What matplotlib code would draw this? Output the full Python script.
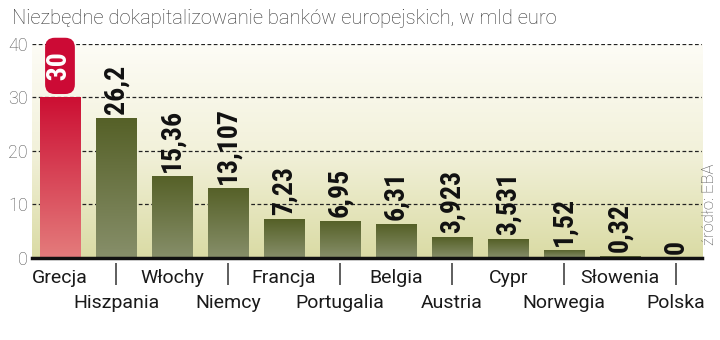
import matplotlib
matplotlib.use("Agg")
import matplotlib.pyplot as plt
import numpy as np
from matplotlib import font_manager
from matplotlib.colors import LinearSegmentedColormap
from matplotlib.transforms import blended_transform_factory

countries = ["Grecja", "Hiszpania", "Włochy", "Niemcy", "Francja", "Portugalia",
             "Belgia", "Austria", "Cypr", "Norwegia", "Słowenia", "Polska"]
values = [30, 26.2, 15.36, 13.107, 7.23, 6.95, 6.31, 3.923, 3.531, 1.52, 0.32, 0]
yticks = [0, 10, 20, 30, 40]
title = "Niezbędne dokapitalizowanie banków europejskich, w mld euro"
source = "źródło: EBA"

# pick a narrow bold face for the value labels if there is one
installed = {f.name for f in font_manager.fontManager.ttflist}
narrow = [n for n in ["Liberation Sans Narrow", "Roboto Condensed",
                      "DejaVu Sans Condensed", "Roboto"] if n in installed]
NARROW = narrow[:1] + ["DejaVu Sans"]
value_size = 20 if narrow and narrow[0] != "Roboto" else 18
LIGHT = ["Roboto", "DejaVu Sans"]

bg_cmap = LinearSegmentedColormap.from_list("bg", ["#dadba4", "#f2f1da", "#fdfcf6"])
green_cmap = LinearSegmentedColormap.from_list("green", ["#878f6a", "#556027"])
red_cmap = LinearSegmentedColormap.from_list("red", ["#e47c7c", "#cc0f33"])

fig = plt.figure(figsize=(7.2, 3.4), dpi=100)
ax = fig.add_axes([0.0444, 0.2412, 0.9306, 0.6294])

x = np.arange(len(values))
xlim = (-0.5, 11.46)
ax.set_xlim(*xlim)
ax.set_ylim(0, 40)

grad = np.linspace(0, 1, 256).reshape(-1, 1)
ax.imshow(grad, extent=[xlim[0], xlim[1], 0, 40], origin="lower",
          aspect="auto", cmap=bg_cmap, zorder=0)

for yv in yticks[1:]:
    ax.axhline(yv, color="#222222", lw=0.9, ls=(0, (3, 2)), zorder=1)

bars = ax.bar(x, values, width=0.714, color="none", zorder=2)
for i, (b, v) in enumerate(zip(bars, values)):
    if v <= 0:
        continue
    cmap = red_cmap if i == 0 else green_cmap
    img = ax.imshow(grad, extent=[b.get_x(), b.get_x() + b.get_width(), 0, v],
                    origin="lower", aspect="auto", cmap=cmap, zorder=2)
    img.set_clip_path(b)

for i, v in enumerate(values):
    label = f"{v:g}".replace(".", ",")
    if i == 0:
        ax.annotate("  " + label + "  ", (x[i], v), xytext=(0, 3.5),
                    textcoords="offset points", rotation=90, ha="center",
                    va="bottom", fontsize=value_size, fontweight="bold",
                    family=NARROW, color="white", zorder=4,
                    annotation_clip=False,
                    bbox=dict(boxstyle="round,pad=0.05,rounding_size=0.35",
                              fc="#cc0a35", ec="none"))
    else:
        ax.annotate(label, (x[i], v), xytext=(0, 3), textcoords="offset points",
                    rotation=90, ha="center", va="bottom", fontsize=value_size,
                    fontweight="bold", family=NARROW, color="#111111", zorder=4)

# country names in two staggered rows
ax.set_xticks(x[0::2], countries[0::2], fontsize=14, family=LIGHT,
              color="#1a1a1a")
ax.set_xticks(x[1::2], countries[1::2], minor=True, fontsize=14, family=LIGHT,
              color="#1a1a1a")
ax.tick_params(axis="x", which="major", length=0, pad=8)
ax.tick_params(axis="x", which="minor", length=0, pad=26)
ax.set_yticks(yticks, [str(t) for t in yticks], fontsize=13, family=LIGHT,
              fontweight="light", color="#555555")
ax.tick_params(axis="y", length=0, pad=3)

for s in ["top", "right", "left"]:
    ax.spines[s].set_visible(False)
ax.spines["bottom"].set_linewidth(2.5)
ax.spines["bottom"].set_color("#111111")
ax.spines["bottom"].set_zorder(5)

trans = blended_transform_factory(ax.transData, ax.transAxes)
ax.vlines(x[1::2], -0.023, -0.126, transform=trans, color="#333333",
          lw=1.1, clip_on=False)

fig.text(0.016, 1 - 18 / 340, title, va="center", ha="left", fontsize=14.5,
         family=LIGHT, fontweight="light", color="#333333")
fig.text(0.985, 1 - 204 / 340, source, rotation=90, va="center", ha="center",
         fontsize=12, family=LIGHT, fontweight="light", color="#555555")

fig.savefig("out.png", dpi=100)
